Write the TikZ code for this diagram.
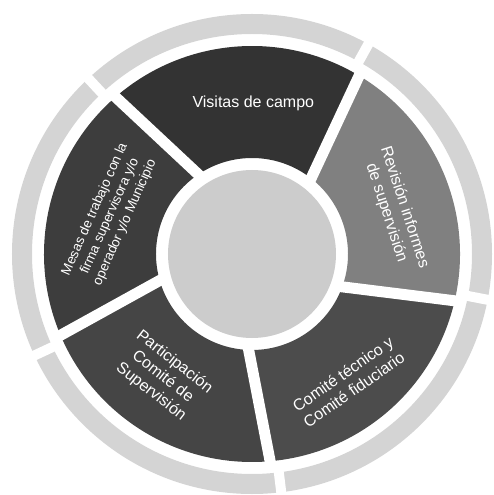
\documentclass[tikz,border=0pt]{standalone}
\usepackage{fontspec}
\setmainfont{Liberation Sans}
\usetikzlibrary{calc}

\begin{document}
\begin{tikzpicture}
[x = 1pt, y = 1pt,
ring gap/.style = {white, line width = 10pt},
divider/.style = {white, line width = 11pt},
label text/.style = {text = white, align = center, inner sep = 0pt, font = \fontsize{16}{19}\selectfont},
small text/.style = {font = \fontsize{13.5}{16.5}\selectfont}]

\colorlet{ringcolor}{black!17}
\colorlet{hubcolor}{black!20}
\colorlet{visitascolor}{black!80}
\colorlet{mesascolor}{black!76}
\colorlet{partcolor}{black!73}
\colorlet{comitecolor}{black!70}
\colorlet{revisioncolor}{black!50}

\useasboundingbox (-252, -241) rectangle (241, 254);

% outer ring
\fill[ringcolor, even odd rule] (0, 0) circle [radius = 240] (0, 0) circle [radius = 220];
\foreach \a in {61, 133, 205, 277, 349} \draw[ring gap] (\a:214) -- (\a:246);

% segments
\foreach \a/\segcolor in {52/visitascolor, 124/mesascolor, 196/partcolor, 268/comitecolor, 340/revisioncolor}
\fill[\segcolor] (\a+7:208) arc [start angle = \a+7, end angle = \a+79, radius = 208] -- (\a+72:96) arc [start angle = \a+72, end angle = \a, radius = 96] -- cycle;
\foreach \a in {52, 124, 196, 268, 340} \draw[divider] ($(\a:96)!-0.12!(\a+7:208)$) -- ($(\a:96)!1.06!(\a+7:208)$);

% hub
\fill[hubcolor] (0, 0) circle [radius = 84];

% labels
\node[label text] (visitas) at (89.5:151) {Visitas de campo};
\node[label text, rotate = -72] (revision) at (17:150) {Revisión informes\\de supervisión};
\node[label text, rotate = 35] (comite) at (307:160) {Comité técnico y\\Comité fiduciario};
\node[label text, rotate = -38] (participacion) at (234:152) {Participación\\Comité de\\Supervisión};
\node[label text, small text, rotate = 66] (mesas) at (165:147) {Mesas de trabajo con la\\firma supervisora y/o\\operador y/o Municipio};
\end{tikzpicture}
\end{document}
